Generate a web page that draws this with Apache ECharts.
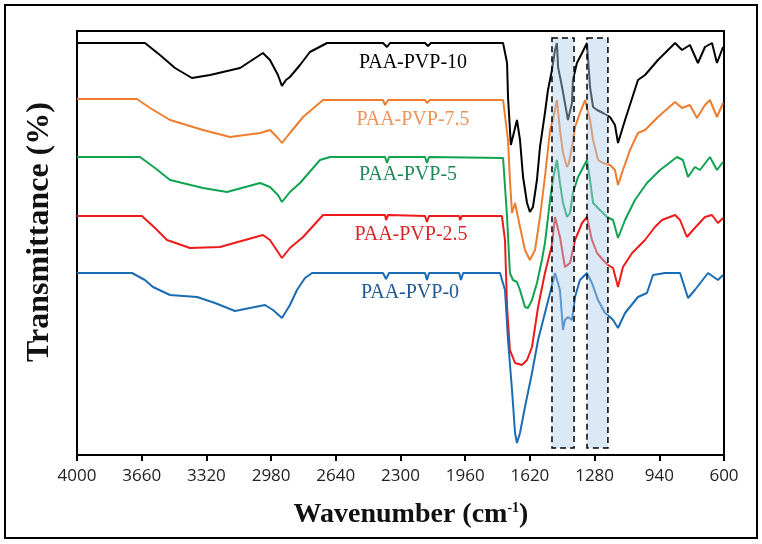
<!DOCTYPE html>
<html><head><meta charset="utf-8">
<script src="https://cdn.jsdelivr.net/npm/echarts@6/dist/echarts.min.js"></script>
<style>html,body{margin:0;padding:0;background:#fff}#c{width:762px;height:544px}</style>
</head><body><div id="c"></div>
<script>
// Wavenumber axis
const xMin = 600, xMax = 4000, xStep = 340;

// PAA-PVP-10 (black)
const wn10 = [4000,3643,3564,3485,3396,3301,3143,3023,2986,2944,2923,2902,2881,2828,2776,2686,2392,2371,2355,2171,2156,2140,1987,1761,1751,1740,1735,1720,1688,1672,1656,1635,1620,1604,1583,1567,1541,1525,1504,1488,1478,1472,1451,1436,1420,1399,1394,1373,1346,1320,1304,1288,1267,1236,1199,1173,1157,1120,1052,1015,947,857,821,779,737,700,663,637,605,600];
const t10 = [412,412,400,387,377,380,387,402,395,380,369,375,378,390,403,412,412,408,412,412,409,412,412,412,411,392,358,310,335,315,278,252,243,248,275,308,342,365,385,405,412,388,368,352,335,352,375,392,402,412,368,348,345,342,338,330,312,335,375,380,395,412,405,410,392,408,412,392,408,405];

// PAA-PVP-7.5 (orange)
const wn75 = [4000,3685,3616,3511,3338,3196,3038,2986,2944,2923,2881,2812,2707,2392,2381,2365,2171,2161,2145,1761,1751,1735,1725,1714,1698,1672,1646,1620,1593,1567,1541,1514,1499,1478,1462,1446,1425,1415,1399,1383,1357,1330,1304,1288,1262,1236,1199,1173,1157,1131,1094,1052,1015,947,857,821,779,742,700,674,637,605];
const t75 = [356,356,347,335,325,318,322,325,317,312,322,338,355,355,350,355,355,352,355,355,355,315,275,242,252,228,205,195,205,238,278,325,335,355,325,302,288,292,308,328,342,355,335,315,295,292,290,285,270,285,305,322,325,338,353,347,350,337,350,355,338,352];

// PAA-PVP-5 (green)
const wn5 = [4000,3669,3590,3511,3338,3212,3038,2986,2944,2923,2881,2828,2723,2670,2381,2371,2360,2171,2161,2150,1761,1751,1740,1725,1709,1688,1672,1646,1630,1609,1583,1557,1541,1514,1499,1478,1462,1446,1425,1409,1394,1367,1320,1304,1288,1252,1215,1183,1157,1120,1068,1005,936,847,816,789,753,726,674,637,605];
const t5 = [298,298,287,275,267,263,272,268,260,253,263,272,295,298,298,292,298,298,292,298,297,295,238,182,175,173,165,148,147,155,172,195,212,255,275,295,272,252,238,242,262,278,295,275,252,245,238,235,217,235,255,272,285,298,295,278,288,285,298,285,293];

// PAA-PVP-2.5 (red)
const wn25 = [4000,3659,3590,3527,3406,3249,3023,2986,2944,2923,2881,2812,2707,2381,2376,2365,2171,2161,2150,1992,1987,1977,1767,1751,1740,1725,1698,1662,1635,1609,1577,1541,1504,1488,1462,1436,1409,1383,1346,1320,1294,1267,1236,1210,1183,1157,1131,1083,1015,963,926,857,831,795,763,700,663,632,605];
const t25 = [239,239,227,215,207,208,220,215,203,197,207,218,240,240,235,240,239,233,239,239,235,239,239,215,148,105,92,90,95,108,148,182,210,238,218,188,192,215,232,238,215,202,195,190,187,168,188,202,215,228,235,240,235,218,225,238,240,232,237];

// PAA-PVP-0 (blue)
const wn0 = [4000,3711,3643,3601,3511,3369,3275,3170,3065,3012,2970,2923,2881,2844,2802,2765,2392,2376,2360,2171,2161,2150,1992,1982,1971,1777,1751,1735,1714,1698,1688,1672,1646,1609,1577,1541,1514,1488,1462,1446,1436,1420,1399,1383,1357,1320,1294,1262,1225,1199,1183,1157,1120,1052,1005,973,910,831,789,753,684,632,605];
const t0 = [182,182,175,168,160,158,152,144,148,150,145,137,150,165,177,182,182,176,182,182,175,182,182,175,182,182,165,115,65,22,12,22,48,82,115,142,162,182,165,125,135,138,135,158,175,182,172,155,142,138,135,127,142,158,162,180,182,182,157,165,182,175,180];

const seriesNames = ['PAA-PVP-10','PAA-PVP-7.5','PAA-PVP-5','PAA-PVP-2.5','PAA-PVP-0'];
const seriesWn = [wn10, wn75, wn5, wn25, wn0];
const seriesT = [t10, t75, t5, t25, t0];
const lineColors = ['#000000','#EE7D2F','#10A352','#EE1B1B','#1A6DB5'];
const labelColors = ['#000000','#F0925A','#1F8A57','#D9262B','#1F5A96'];
const labelPos = [[413,63],[413,120],[408,175],[411,235],[410,293]];

// Highlighted bands (wavenumber from, to) and vertical extent
const boxWn = [[1504,1388],[1320,1210]];
const boxT = [417, 7];

const chart = echarts.init(document.getElementById('c'));
const lineSeries = seriesNames.map((n, i) => ({
  name: n, type: 'line', showSymbol: false, smooth: false, z: 2,
  lineStyle: {color: lineColors[i], width: 2},
  data: seriesWn[i].map((w, k) => [w, seriesT[i][k]])
}));
const boxSeries = {
  type: 'custom', z: 10, silent: true,
  encode: {x: [0, 1], y: [2, 3]},
  data: boxWn.map(b => [b[0], b[1], boxT[0], boxT[1]]),
  renderItem: (params, api) => {
    const p1 = api.coord([api.value(0), api.value(2)]);
    const p2 = api.coord([api.value(1), api.value(3)]);
    return {type: 'rect',
      shape: {x: Math.min(p1[0], p2[0]), y: Math.min(p1[1], p2[1]),
              width: Math.abs(p2[0] - p1[0]), height: Math.abs(p2[1] - p1[1])},
      style: {fill: 'rgba(175,205,233,0.45)', stroke: '#000', lineWidth: 1.5, lineDash: [6, 4]}};
  }
};

const graphics = [
  {type: 'rect', shape: {x: 5, y: 5, width: 752, height: 533}, style: {fill: 'none', stroke: '#000', lineWidth: 2}, z: 100},
  {type: 'text', x: 411, y: 515, style: {
    text: '{a|Wavenumber (cm}{b|-1}{a|)}', align: 'center', verticalAlign: 'middle',
    rich: {a: {fontFamily: 'Liberation Serif', fontWeight: 'bold', fontSize: 28, fill: '#111'},
           b: {fontFamily: 'Liberation Serif', fontWeight: 'bold', fontSize: 14, fill: '#111', verticalAlign: 'top'}}}},
  {type: 'text', x: 40, y: 232, rotation: Math.PI / 2, style: {
    text: 'Transmittance (%)', align: 'center', verticalAlign: 'middle',
    fontFamily: 'Liberation Serif', fontWeight: 'bold', fontSize: 32, fill: '#111'}}
];
seriesNames.forEach((n, i) => graphics.push({type: 'text', x: labelPos[i][0], y: labelPos[i][1], z: 50,
  style: {text: n, align: 'center', verticalAlign: 'middle', fontFamily: 'Liberation Serif', fontSize: 20, fill: labelColors[i]}}));

chart.setOption({
  backgroundColor: '#fff',
  animation: false,
  grid: {left: 77, right: 38, top: 31, bottom: 89, show: true, borderColor: '#000', borderWidth: 2, backgroundColor: 'transparent'},
  xAxis: {type: 'value', min: xMin, max: xMax, interval: xStep, inverse: true,
    axisLine: {show: true, lineStyle: {color: '#000', width: 2}},
    axisTick: {show: true, length: 6, lineStyle: {color: '#000', width: 2}},
    axisLabel: {fontFamily: 'Open Sans', fontSize: 17, color: '#222', margin: 13, formatter: v => String(v)},
    splitLine: {show: false}},
  yAxis: {type: 'value', min: 0, max: 424,
    axisLine: {show: true, lineStyle: {color: '#000', width: 2}},
    axisTick: {show: false}, axisLabel: {show: false}, splitLine: {show: false}},
  series: lineSeries.concat([boxSeries]),
  graphic: graphics
});
</script></body></html>
